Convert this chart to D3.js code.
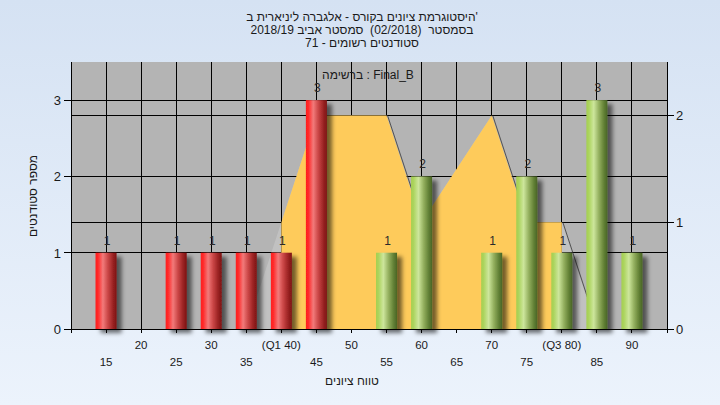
<!DOCTYPE html>
<html><head><meta charset="utf-8">
<script src="https://cdn.jsdelivr.net/npm/d3@7/dist/d3.min.js"></script>
<style>html,body{margin:0;padding:0;overflow:hidden;}text{font-family:"Liberation Sans",Arial,sans-serif;white-space:pre;}</style>
</head><body><svg id="c" width="720" height="405"></svg>
<script>
// ---- data ----
const titleLines = ["היסטוגרמת ציונים בקורס - אלגברה ליניארית ב'", "בסמסטר  (02/2018)  סמסטר אביב 2018/19", "סטודנטים רשומים - 71"];
const legendText = "ברשימה : Final_B";
const xTitle = "טווח ציונים";
const yTitle = "מספר סטודנטים";
const failBins = [15, 25, 30, 35, 40, 45];
const failCounts = [1, 1, 1, 1, 1, 3];
const passBins = [55, 60, 70, 75, 80, 85, 90];
const passCounts = [1, 2, 1, 2, 1, 3, 1];
const areaX = [35, 40, 45, 55, 60, 70, 75, 80, 85];
const areaY = [0, 1, 2, 2, 1, 2, 1, 1, 0];
const q1 = 40, q3 = 80;
const xTicksRow1 = [20, 30, 40, 50, 60, 70, 80, 90];
const xLabelsRow1 = ["20", "30", "(Q1 40)", "50", "60", "70", "(Q3 80)", "90"];
const xTicksRow2 = [15, 25, 35, 45, 55, 65, 75, 85];
const xLabelsRow2 = ["15", "25", "35", "45", "55", "65", "75", "85"];
const leftTicks = [0, 1, 2, 3];
const rightTicks = [0, 1, 2];

// ---- layout ----
const svg = d3.select("#c");
const L = 71, R = 667, T = 62, B = 329;
const x = d3.scaleLinear().domain([10, 95]).range([L, R]);
const yL = d3.scaleLinear().domain([0, 3.5]).range([B, T]);
const yR = d3.scaleLinear().domain([0, 2.5]).range([B, T]);

const defs = svg.append("defs");
const bg = defs.append("linearGradient").attr("id", "bg").attr("x1", 0).attr("y1", 0).attr("x2", 0).attr("y2", 1);
bg.append("stop").attr("offset", "0%").attr("stop-color", "#d5e2f3");
bg.append("stop").attr("offset", "100%").attr("stop-color", "#ecf3fc");
function barGrad(id, stops) {
  const g = defs.append("linearGradient").attr("id", id).attr("x1", 0).attr("y1", 0).attr("x2", 1).attr("y2", 0);
  stops.forEach(s => g.append("stop").attr("offset", s[0]).attr("stop-color", s[1]));
}
barGrad("gRed", [["0%", "#ff1c1c"], ["12%", "#ff2a2a"], ["35%", "#f27a7a"], ["60%", "#c84444"], ["85%", "#962020"], ["100%", "#7c1515"]]);
barGrad("gGreen", [["0%", "#a4cf50"], ["12%", "#acd45e"], ["35%", "#cde69c"], ["60%", "#93af5e"], ["85%", "#5f7e33"], ["100%", "#4a6526"]]);
const f = defs.append("filter").attr("id", "sh").attr("x", "-30%").attr("y", "-10%").attr("width", "180%").attr("height", "130%");
f.append("feDropShadow").attr("dx", 5).attr("dy", 4).attr("stdDeviation", 2).attr("flood-color", "#000").attr("flood-opacity", 0.55);
defs.append("clipPath").attr("id", "qclip").append("rect").attr("x", x(q1)).attr("y", T).attr("width", x(q3) - x(q1)).attr("height", B - T);
defs.append("clipPath").attr("id", "plotclip").append("rect").attr("x", L).attr("y", T).attr("width", R - L).attr("height", B - T);

svg.append("rect").attr("width", 720).attr("height", 405).attr("fill", "url(#bg)");
svg.append("rect").attr("x", L).attr("y", T).attr("width", R - L).attr("height", B - T).attr("fill", "#b4b4b4");

// grid
const grid = svg.append("g").attr("stroke", "#000").attr("stroke-width", 1).attr("shape-rendering", "crispEdges");
d3.range(15, 95, 5).forEach(v => grid.append("line").attr("x1", x(v)).attr("x2", x(v)).attr("y1", T).attr("y2", B));
leftTicks.slice(1).forEach(v => grid.append("line").attr("x1", L).attr("x2", R).attr("y1", yL(v)).attr("y2", yL(v)));
rightTicks.slice(1).forEach(v => grid.append("line").attr("x1", L).attr("x2", R).attr("y1", yR(v)).attr("y2", yR(v)));

// area
const pts = areaX.map((v, i) => [v, areaY[i]]);
const area = d3.area().x(d => x(d[0])).y0(yR(0)).y1(d => yR(d[1]));
svg.append("path").attr("d", area(pts)).attr("fill", "#ffffff").attr("fill-opacity", 0.18).attr("clip-path", "url(#plotclip)");
svg.append("path").attr("d", area(pts)).attr("fill", "#fecb5b").attr("clip-path", "url(#qclip)");
const edge = svg.append("g");
for (let i = 1; i < pts.length; i++) {
  if (pts[i][1] < pts[i - 1][1]) {
    edge.append("line").attr("x1", x(pts[i - 1][0]) + 1).attr("y1", yR(pts[i - 1][1]))
      .attr("x2", x(pts[i][0]) + 1).attr("y2", yR(pts[i][1])).attr("stroke", "#3a3a3a").attr("stroke-width", 1).attr("stroke-opacity", 0.8);
  }
}

// axes
const ax = svg.append("g").attr("stroke", "#000").attr("stroke-width", 1).attr("shape-rendering", "crispEdges");
ax.append("line").attr("x1", L).attr("x2", L).attr("y1", T).attr("y2", B + 4);
ax.append("line").attr("x1", R).attr("x2", R).attr("y1", T).attr("y2", B + 4);
ax.append("line").attr("x1", L - 1).attr("x2", R + 1).attr("y1", B).attr("y2", B);
d3.range(10, 100, 5).forEach(v => ax.append("line").attr("x1", x(v)).attr("x2", x(v)).attr("y1", B).attr("y2", B + 4));
leftTicks.forEach(v => ax.append("line").attr("x1", L - 7).attr("x2", L).attr("y1", yL(v)).attr("y2", yL(v)));
rightTicks.forEach(v => ax.append("line").attr("x1", R).attr("x2", R + 7).attr("y1", yR(v)).attr("y2", yR(v)));

// bars
function bars(bins, counts, grad) {
  const data = bins.map((b, i) => ({ b, c: counts[i] }));
  const g = svg.append("g");
  g.selectAll("rect").data(data).join("rect")
    .attr("x", d => x(d.b - 1.5)).attr("width", d => x(d.b + 1.5) - x(d.b - 1.5))
    .attr("y", d => yL(d.c)).attr("height", d => yL(0) - yL(d.c))
    .attr("fill", `url(#${grad})`).attr("filter", "url(#sh)");
  g.selectAll("text").data(data).join("text")
    .attr("x", d => x(d.b) + 1).attr("y", d => yL(d.c) - 8)
    .attr("text-anchor", "middle").attr("font-size", 12).attr("fill", "#2a2a2a").text(d => d.c);
}
bars(failBins, failCounts, "gRed");
bars(passBins, passCounts, "gGreen");

// tick labels
const tl = svg.append("g").attr("font-size", 11.5).attr("fill", "#1a1a1a").attr("text-anchor", "middle");
xTicksRow1.forEach((v, i) => tl.append("text").attr("x", x(v)).attr("y", 349).text(xLabelsRow1[i]));
xTicksRow2.forEach((v, i) => tl.append("text").attr("x", x(v)).attr("y", 366).text(xLabelsRow2[i]));
const yl = svg.append("g").attr("font-size", 13).attr("fill", "#1a1a1a");
leftTicks.forEach(v => yl.append("text").attr("x", 61).attr("y", yL(v) + 5).attr("text-anchor", "end").text(v));
rightTicks.forEach(v => yl.append("text").attr("x", 676).attr("y", yR(v) + 5).attr("text-anchor", "start").text(v));

// titles
titleLines.forEach((t, i) => svg.append("text").attr("x", 362).attr("y", 21 + i * 13).attr("text-anchor", "middle")
  .attr("font-size", 12).attr("fill", "#1a1a1a").text(t));
svg.append("text").attr("x", 368).attr("y", 79).attr("text-anchor", "middle").attr("font-size", 12).attr("fill", "#1a1a1a").text(legendText);
svg.append("text").attr("x", 352).attr("y", 385).attr("text-anchor", "middle").attr("font-size", 12).attr("fill", "#1a1a1a").text(xTitle);
svg.append("text").attr("transform", "translate(37,196) rotate(-90)").attr("text-anchor", "middle").attr("font-size", 12).attr("fill", "#1a1a1a").text(yTitle);
</script></body></html>
